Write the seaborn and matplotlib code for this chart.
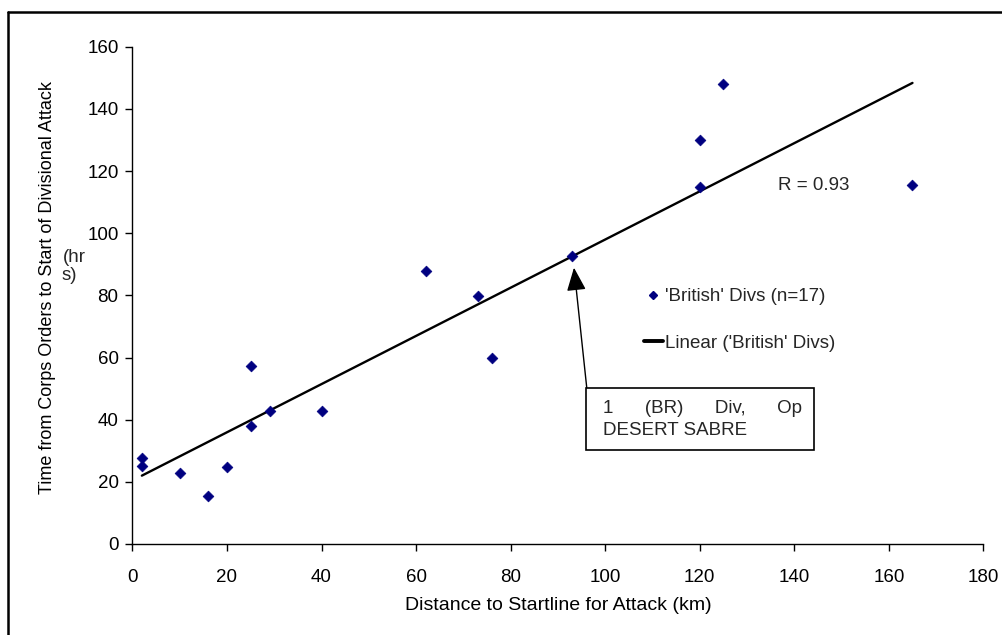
import numpy as np
import pandas as pd
import matplotlib
matplotlib.use("Agg")
import matplotlib.pyplot as plt
from matplotlib.lines import Line2D
from matplotlib.patches import Rectangle
import seaborn as sns

# ---- data ----
distance_km = [2, 2, 10, 16, 20, 25, 25, 29, 40, 62, 73, 76, 93, 120, 120, 125, 165]
time_hrs = [27.7, 25.1, 22.7, 15.5, 24.8, 57.4, 37.9, 42.7, 42.7, 87.7, 79.7, 59.9,
            92.6, 130.1, 115.0, 148.1, 115.4]
x_ticks = [0, 20, 40, 60, 80, 100, 120, 140, 160, 180]
y_ticks = [0, 20, 40, 60, 80, 100, 120, 140, 160]
series_label = "'British' Divs (n=17)"
trend_label = "Linear ('British' Divs)"
r_text = "R = 0.93"
note_line1 = "1      (BR)      Div,      Op"
note_line2 = "DESERT SABRE"
note_x, note_y = 93, 92.6

df = pd.DataFrame({"x": distance_km, "y": time_hrs})

sns.set_theme(style="white")
plt.rcParams["font.family"] = ["Liberation Sans", "DejaVu Sans"]
FS = 13.5

W, H = 1003, 635
fig = plt.figure(figsize=(W / 100, H / 100), dpi=100)
fig.patch.set_facecolor("white")
ax = fig.add_axes([132.4 / W, 1 - 544 / H, 851 / W, 497.3 / H])
ax.set_facecolor("white")

sns.regplot(data=df, x="x", y="y", scatter=False, ci=None, ax=ax,
            line_kws=dict(color="black", lw=1.7, zorder=2), truncate=True)
sns.scatterplot(data=df, x="x", y="y", marker="D", color="#000080", s=30,
                edgecolor="#000080", linewidth=0.5, ax=ax, zorder=3)

ax.set_xlim(0, 180)
ax.set_ylim(0, 160)
ax.set_xticks(x_ticks)
ax.set_yticks(y_ticks)
ax.tick_params(axis="both", direction="out", length=5, width=1, color="black",
               labelsize=FS, labelcolor="black", bottom=True, left=True)
ax.tick_params(axis="x", pad=13)
ax.tick_params(axis="y", pad=5)
for s in ["top", "right"]:
    ax.spines[s].set_visible(False)
for s in ["left", "bottom"]:
    ax.spines[s].set_color("black")
    ax.spines[s].set_linewidth(1)
ax.grid(False)

ax.set_xlabel("Distance to Startline for Attack (km)", fontsize=14, color="black")
ax.xaxis.set_label_coords(0.5, (544 - 597) / 497.3)
ax.set_ylabel("Time from Corps Orders to Start of Divisional Attack", fontsize=13, color="black")
ax.yaxis.set_label_coords((56 - 132.4) / 851, (544 - 288) / 497.3)
fig.text(63 / W, 1 - 257 / H, "(hr", fontsize=FS, va="center", ha="left")
fig.text(62 / W, 1 - 276 / H, "s)", fontsize=FS, va="center", ha="left")

# R text
ax.text(136.5, 115.5, r_text, fontsize=FS, va="center", ha="left")

# annotation arrow and box
ax.annotate("", xy=(note_x + 0.4, note_y - 3.7), xytext=(96.1, 50.3),
            arrowprops=dict(arrowstyle="-|>,head_width=0.27,head_length=0.65",
                            mutation_scale=22, color="black",
                            lw=1, shrinkA=0, shrinkB=0), zorder=4)
ax.add_patch(Rectangle((95.9, 30.4), 144.1 - 95.9, 50.3 - 30.4, facecolor="white",
                       edgecolor="black", lw=1.2, zorder=5, clip_on=False))
ax.text(99.5, 43.6, note_line1, fontsize=FS, va="center", ha="left", zorder=6)
ax.text(99.5, 36.4, note_line2, fontsize=FS, va="center", ha="left", zorder=6)

# legend
handles = [Line2D([], [], marker="D", color="#000080", ls="none", markersize=4.5),
           Line2D([], [], color="black", lw=2.8)]
leg = ax.legend(handles, [series_label, trend_label], loc="upper left",
                bbox_to_anchor=(644 / W, 1 - 288 / H), bbox_transform=fig.transFigure,
                frameon=False, fontsize=FS, handlelength=1.0, handletextpad=0.12,
                labelspacing=1.58, borderpad=0, borderaxespad=0)

# outer frame (top and left edges visible)
fig.add_artist(Line2D([8.5 / W, 1.0], [1 - 11.5 / H, 1 - 11.5 / H], color="black", lw=1.8,
                      transform=fig.transFigure))
fig.add_artist(Line2D([8.5 / W, 8.5 / W], [0, 1 - 11.5 / H], color="black", lw=1.8,
                      transform=fig.transFigure))

fig.savefig("out.png", dpi=100, facecolor="white")
